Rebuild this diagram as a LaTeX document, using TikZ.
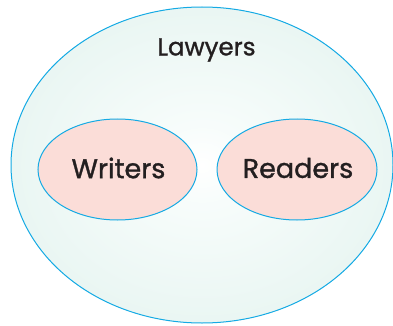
\documentclass[tikz,border=0pt]{standalone}
\usepackage{fontspec}
\setmainfont{Poppins}[FakeBold=1.2,BoldFont=Poppins,BoldFeatures={FakeBold=1.2}]
\usepackage{tikz}
\usepackage{xcolor}
\usetikzlibrary{shapes.geometric}
\definecolor{rim}{RGB}{20,170,228}
\definecolor{mint}{RGB}{218,239,233}
\definecolor{blush}{RGB}{251,221,216}
\definecolor{ink}{RGB}{35,31,32}
\pgfdeclareradialshading{lawshade}{\pgfpoint{0bp}{0bp}}{rgb(0bp)=(1,1,1); rgb(6bp)=(0.97,0.99,0.985); rgb(50bp)=(0.845,0.932,0.908); rgb(100bp)=(0.845,0.932,0.908)}

\begin{document}
\begin{tikzpicture}[x=1pt,y=-1pt]
		\useasboundingbox (0,0) rectangle (393,326);
		\node[ellipse, draw=rim, line width=1pt, shading=lawshade, minimum width=382pt, minimum height=316pt, inner sep=0pt] (lawyers) at (202,165) {};
		\node[ellipse, draw=rim, line width=1pt, fill=blush, minimum width=159pt, minimum height=101pt, inner sep=0pt] (writers) at (117.5,169.5) {};
		\node[ellipse, draw=rim, line width=1pt, fill=blush, minimum width=160pt, minimum height=101pt, inner sep=0pt] (readers) at (297,169.5) {};
		\node[text=ink, font=\fontsize{24.5}{26}\selectfont] (lawlabel) at (206.5,50) {Lawyers};
		\node[text=ink, font=\fontsize{27}{30}\selectfont] (writlabel) at (118.5,168) {Writers};
		\node[text=ink, font=\fontsize{27}{30}\selectfont] (readlabel) at (298,168) {Readers};
	\end{tikzpicture}
\end{document}
